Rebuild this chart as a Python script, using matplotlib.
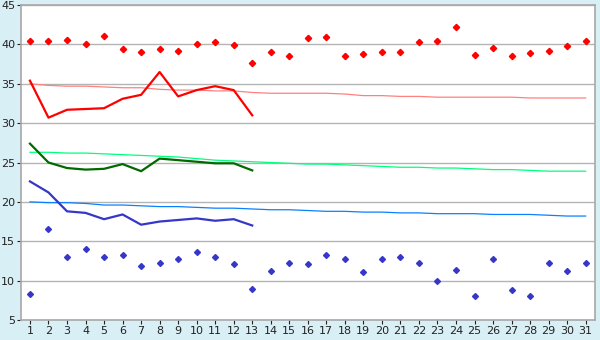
import numpy as np
import matplotlib
matplotlib.use("Agg")
import matplotlib.pyplot as plt

days = list(range(1, 32))

# daily extremes (markers) for the whole month
max_pts = [40.5, 40.4, 40.6, 40.0, 41.1, 39.4, 39.1, 39.4, 39.2, 40.0,
           40.3, 39.9, 37.6, 39.0, 38.5, 40.8, 41.0, 38.5, 38.8, 39.0,
           39.0, 40.3, 40.4, 42.2, 38.7, 39.5, 38.5, 38.9, 39.2, 39.8, 40.5]
min_pts = [8.3, 16.5, 13.0, 14.0, 13.0, 13.3, 11.9, 12.2, 12.8, 13.6,
           13.0, 12.1, 8.9, 11.2, 12.2, 12.1, 13.2, 12.8, 11.1, 12.8,
           13.0, 12.2, 10.0, 11.4, 8.0, 12.8, 8.8, 8.0, 12.2, 11.2, 12.2]

# running series, first 13 days only
line_days = days[:13]
hi_line = [35.4, 30.7, 31.7, 31.8, 31.9, 33.1, 33.6, 36.5, 33.4, 34.2, 34.7, 34.2, 31.0]
mid_line = [27.4, 25.0, 24.3, 24.1, 24.2, 24.8, 23.9, 25.5, 25.3, 25.1, 24.9, 24.9, 24.0]
lo_line = [22.6, 21.2, 18.8, 18.6, 17.8, 18.4, 17.1, 17.5, 17.7, 17.9, 17.6, 17.8, 17.0]

# normals
hi_norm = [35.0, 34.8, 34.7, 34.7, 34.6, 34.5, 34.5, 34.3, 34.2, 34.2,
           34.1, 34.1, 33.9, 33.8, 33.8, 33.8, 33.8, 33.7, 33.5, 33.5,
           33.4, 33.4, 33.3, 33.3, 33.3, 33.3, 33.3, 33.2, 33.2, 33.2, 33.2]
mid_norm = [26.3, 26.3, 26.2, 26.2, 26.1, 26.0, 25.9, 25.8, 25.7, 25.5,
            25.3, 25.2, 25.1, 25.0, 24.9, 24.8, 24.8, 24.7, 24.6, 24.5,
            24.4, 24.4, 24.3, 24.3, 24.2, 24.1, 24.1, 24.0, 23.9, 23.9, 23.9]
lo_norm = [20.0, 19.9, 19.9, 19.8, 19.6, 19.6, 19.5, 19.4, 19.4, 19.3,
           19.2, 19.2, 19.1, 19.0, 19.0, 18.9, 18.8, 18.8, 18.7, 18.7,
           18.6, 18.6, 18.5, 18.5, 18.5, 18.4, 18.4, 18.4, 18.3, 18.2, 18.2]

bg = "#d9eff6"
grid_c = "#b4b4b4"

fig = plt.figure(figsize=(6, 3.4), dpi=100, facecolor=bg)
ax = fig.add_axes([0.0345, 0.059, 0.957, 0.926])
ax.set_facecolor("white")

ax.plot(days, hi_norm, color="#ff8080", lw=0.9)
ax.plot(days, mid_norm, color="#00ff80", lw=0.9)
ax.plot(days, lo_norm, color="#0a80ff", lw=0.9)

ax.plot(line_days, hi_line, color="#ff0000", lw=1.6)
ax.plot(line_days, mid_line, color="#006a00", lw=1.6)
ax.plot(line_days, lo_line, color="#3636c8", lw=1.6)

ax.plot(days, max_pts, ls="none", marker="D", ms=3.2, color="#ff0000")
ax.plot(days, min_pts, ls="none", marker="D", ms=3.0, color="#3636c8")

ax.set_xlim(0.5, 31.5)
ax.set_ylim(5, 45)
ax.set_xticks(days)
ax.set_yticks(range(5, 46, 5))
ax.yaxis.grid(True, color=grid_c, lw=1)
ax.set_axisbelow(True)

for s in ax.spines.values():
    s.set_color("#a8a8a8")
    s.set_linewidth(1.2)

ax.tick_params(axis="both", labelsize=8, colors="#222222", length=3, width=0.8)
ax.tick_params(axis="y", pad=1)
ax.tick_params(axis="x", pad=1.5)

fig.savefig("out.png", dpi=100, facecolor=bg)
